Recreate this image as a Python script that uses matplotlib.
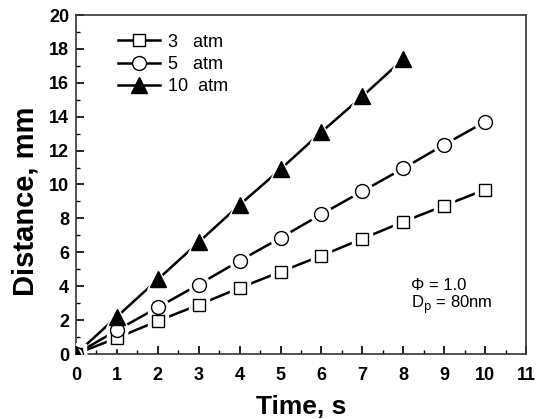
import matplotlib
matplotlib.use("Agg")
import matplotlib.pyplot as plt
from matplotlib.ticker import MultipleLocator
from matplotlib.lines import Line2D

plt.rcParams['font.family'] = ['Liberation Sans', 'DejaVu Sans']

time_3 = [0, 1, 2, 3, 4, 5, 6, 7, 8, 9, 10]
dist_3 = [0, 0.95, 1.95, 2.9, 3.9, 4.85, 5.8, 6.8, 7.8, 8.75, 9.7]
time_5 = [0, 1, 2, 3, 4, 5, 6, 7, 8, 9, 10]
dist_5 = [0, 1.4, 2.75, 4.1, 5.5, 6.85, 8.25, 9.6, 10.95, 12.35, 13.7]
time_10 = [0, 1, 2, 3, 4, 5, 6, 7, 8]
dist_10 = [0, 2.2, 4.4, 6.6, 8.8, 10.9, 13.1, 15.2, 17.4]
labels = ["3   atm", "5   atm", "10  atm"]

fig = plt.figure(figsize=(5.41, 4.19), dpi=100)
ax = fig.add_axes([76/541, 1-354/419, 450/541, 339/419])

series = [(time_3, dist_3, 's', 'white', 9),
          (time_5, dist_5, 'o', 'white', 10),
          (time_10, dist_10, '^', 'black', 11)]
handles = []
for (t, d, m, fc, ms), lab in zip(series, labels):
    ax.plot(t, d, '-', color='black', lw=1.8, zorder=2)
    # white halo to produce gap between line and marker
    ax.plot(t, d, m, ls='none', ms=ms+5, mfc='white', mec='white', zorder=3)
    ax.plot(t, d, m, ls='none', ms=ms, mfc=fc, mec='black', mew=1.0, zorder=4)
    handles.append(Line2D([], [], color='black', lw=1.8, marker=m, ms=ms,
                          mfc=fc, mec='black', mew=1.0))

ax.set_xlim(0, 11)
ax.set_ylim(0, 20)
ax.xaxis.set_major_locator(MultipleLocator(1))
ax.xaxis.set_minor_locator(MultipleLocator(0.5))
ax.yaxis.set_major_locator(MultipleLocator(2))
ax.yaxis.set_minor_locator(MultipleLocator(1))
ax.tick_params(which='both', direction='in', top=False, right=False)
ax.tick_params(which='major', length=6, width=1.2, labelsize=13, pad=5)
ax.tick_params(axis='x', which='major', pad=9)
ax.tick_params(which='minor', length=3, width=1.0)
for lbl in ax.get_xticklabels() + ax.get_yticklabels():
    lbl.set_fontweight('bold')
for sp in ax.spines.values():
    sp.set_linewidth(1.2)
    sp.set_color('#333333')

ax.set_xlabel('Time, s', fontsize=19, fontweight='bold', labelpad=8)
ax.set_ylabel('Distance, mm', fontsize=21, fontweight='bold')
ax.yaxis.set_label_coords(-0.08, 0.45)

leg = ax.legend(handles, labels, loc='upper left', bbox_to_anchor=(0.062, 0.988),
                frameon=False, fontsize=13, handlelength=2.3, handletextpad=0.45,
                labelspacing=0.3, borderaxespad=0.4)

ax.text(0.745, 0.19, 'Φ = 1.0', transform=ax.transAxes, fontsize=12)
ax.text(0.745, 0.135, r'D$_{\rm p}$ = 80nm', transform=ax.transAxes, fontsize=12)

fig.savefig('out.png', dpi=100)
